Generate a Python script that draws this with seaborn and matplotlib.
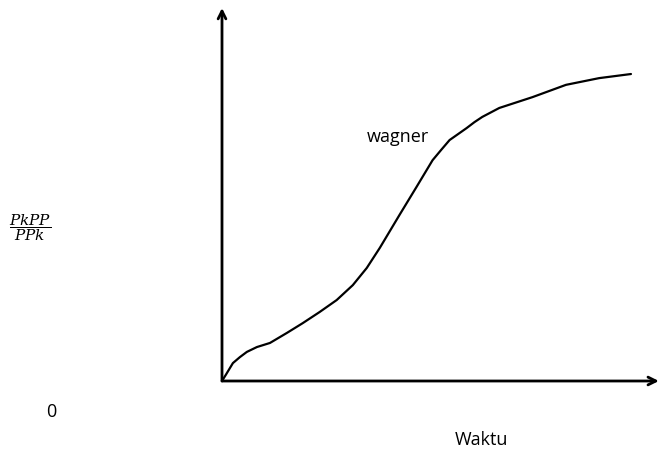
import pandas as pd
import matplotlib
matplotlib.use('Agg')
import matplotlib.pyplot as plt
import seaborn as sns

# Curve (arbitrary units, axes span 0-100 on both)
waktu = [0, 0.9, 2.5, 4.1, 5.7, 8.0, 11.0, 14.9, 18.5, 22.4, 26.3, 30.0, 33.2,
         36.2, 40.7, 44.6, 48.3, 50.3, 52.2, 56.1, 57.9, 59.7, 63.6,
         71.2, 78.9, 86.5, 93.8]
ratio = [0, 1.7, 4.8, 6.4, 7.8, 9.1, 10.2, 12.9, 15.5, 18.5, 21.7, 25.7, 30.3,
         35.7, 44.5, 52.0, 59.2, 62.0, 64.6, 67.8, 69.4, 70.8, 73.2,
         76.1, 79.4, 81.2, 82.3]
curve_label = 'wagner'
x_label = 'Waktu'
y_label = r'$\dfrac{PkPP}{PPk}$'
origin_label = '0'

sns.set_style('white')
plt.rcParams['font.family'] = ['Open Sans', 'DejaVu Sans']
plt.rcParams['mathtext.fontset'] = 'dejavuserif'
plt.rcParams['text.color'] = 'black'

df = pd.DataFrame({'Waktu': waktu, 'Ratio': ratio})

fig = plt.figure(figsize=(6.59, 4.53), dpi=100)
ax = fig.add_axes([222/659, 72/453, 436/659, 373/453])

sns.lineplot(x='Waktu', y='Ratio', data=df, color='black', linewidth=1.6,
             estimator=None, sort=False, ax=ax)
for l in ax.lines:
    l.set_solid_joinstyle('round')
    l.set_solid_capstyle('round')

ax.set_xlim(0, 100)
ax.set_ylim(0, 100)
ax.set_xticks([])
ax.set_yticks([])
ax.set_xlabel('')
ax.set_ylabel('')
for s in ax.spines.values():
    s.set_visible(False)

# axis arrows
arrow = dict(arrowstyle='->', lw=2, color='black', mutation_scale=14,
             shrinkA=0, shrinkB=0)
ax.annotate('', xy=(0, 1), xytext=(0, 0), xycoords='axes fraction',
            arrowprops=arrow, annotation_clip=False)
ax.annotate('', xy=(1.002, 0), xytext=(0, 0), xycoords='axes fraction',
            arrowprops=arrow, annotation_clip=False)

ax.text(40.3, (381 - 142) / 3.73, curve_label, fontsize=13, ha='center', va='baseline')

fig.text(481/659, 1 - 445/453, x_label, fontsize=13, ha='center', va='baseline')
fig.text(51/659, 1 - 417/453, origin_label, fontsize=13, ha='center', va='baseline')
fig.text(30/659, 1 - 228/453, y_label, fontsize=11, ha='center', va='center')

plt.savefig('out.png', dpi=100)
